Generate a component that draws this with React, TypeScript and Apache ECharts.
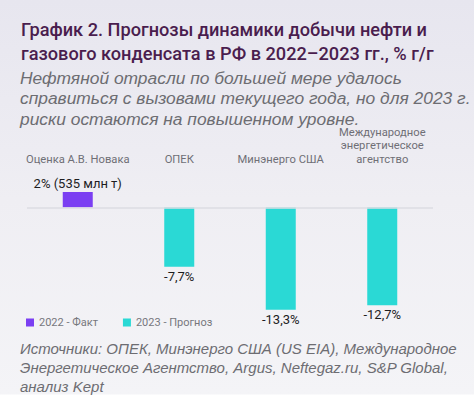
import React, { useEffect, useRef } from "react";
import * as echarts from "echarts";

const categories = [
  "Оценка А.В. Новака",
  "ОПЕК",
  "Минэнерго США",
  "Международное\nэнергетическое\nагентство",
];
const fact2022: (number | string)[] = [2, "-", "-", "-"];
const forecast2023: (number | string)[] = ["-", -7.7, -13.3, -12.7];
const factVolumeMt = 535;
const legendNames = ["2022 - Факт", "2023 - Прогноз"];

const titleLines = [
  "График 2. Прогнозы динамики добычи нефти и",
  "газового конденсата в РФ в 2022–2023 гг., % г/г",
];
const subtitleLines = [
  "Нефтяной отрасли по большей мере удалось",
  "справиться с вызовами текущего года, но для 2023 г.",
  "риски остаются на повышенном уровне.",
];
const sourceLines = [
  "Источники: ОПЕК, Минэнерго США (US EIA), Международное",
  "Энергетическое Агентство, Argus, Neftegaz.ru, S&P Global,",
  "анализ Kept",
];

const PURPLE = "#7b3ff2";
const TEAL = "#2ad9d5";
const SANS = 'Roboto, "Noto Sans", sans-serif';
const ITALIC = '"Liberation Sans", Arial, sans-serif';

const fmt = (v: number) => String(v).replace(".", ",") + "%";

export default function App() {
  const ref = useRef<HTMLDivElement>(null);
  useEffect(() => {
    if (!ref.current) return;
    const chart = echarts.init(ref.current, undefined, { renderer: "svg" });
    chart.setOption({
      animation: false,
      legend: {
        left: 21,
        top: 312,
        itemWidth: 8,
        itemHeight: 8,
        itemGap: 25,
        icon: "rect",
        data: legendNames,
        textStyle: { color: "#77777d", fontSize: 11, fontFamily: SANS },
      },
      grid: { left: 27, width: 406, top: 192, height: 123.2 },
      xAxis: {
        type: "category",
        position: "top",
        data: categories,
        axisLine: { show: false },
        axisTick: { show: false },
        splitLine: { show: false },
        axisLabel: {
          margin: 26,
          color: "#6f6f76",
          fontSize: 11.2,
          fontFamily: SANS,
          lineHeight: 13.5,
          interval: 0,
        },
      },
      yAxis: {
        type: "value",
        min: -14,
        max: 2,
        show: false,
        splitLine: { show: false },
      },
      series: [
        {
          name: legendNames[0],
          type: "bar",
          data: fact2022,
          barWidth: 30,
          barGap: "-100%",
          itemStyle: { color: PURPLE },
          label: {
            show: true,
            position: "top",
            distance: 2,
            color: "#1d1d1f",
            fontSize: 13,
            fontFamily: SANS,
            formatter: (p: any) => `${fmt(p.value)} (${factVolumeMt} млн т)`,
          },
          markLine: {
            silent: true,
            symbol: "none",
            label: { show: false },
            lineStyle: { color: "#dddce3", width: 1.5, type: "solid" },
            data: [{ yAxis: 0 }],
          },
        },
        {
          name: legendNames[1],
          type: "bar",
          data: forecast2023,
          barWidth: 30,
          barGap: "-100%",
          itemStyle: { color: TEAL },
          label: {
            show: true,
            position: "bottom",
            distance: 3,
            color: "#1d1d1f",
            fontSize: 13,
            fontFamily: SANS,
            formatter: (p: any) => fmt(p.value),
          },
        },
      ],
      graphic: [
        {
          type: "text",
          x: 21,
          y: 17,
          style: {
            text: titleLines.join("\n"),
            font: `500 18.2px ${SANS}`,
            fill: "#4a1d4e",
            lineHeight: 24,
          },
        },
        {
          type: "text",
          x: 20,
          y: 67.5,
          style: {
            text: subtitleLines.join("\n"),
            font: `italic 17.4px ${ITALIC}`,
            fill: "#6d6d72",
            lineHeight: 20.5,
          },
        },
        {
          type: "text",
          x: 20,
          y: 338.5,
          style: {
            text: sourceLines.join("\n"),
            font: `italic 15px ${ITALIC}`,
            fill: "#6d6d72",
            lineHeight: 19,
          },
        },
      ],
    });
    return () => chart.dispose();
  }, []);
  return (
    <div
      style={{
        position: "fixed",
        left: 0,
        top: 0,
        width: 474,
        height: 403,
        background:
          "linear-gradient(to bottom, #e7e6ef 0px, #efeef3 200px, #f4f4f7 394px, #ffffff 395px)",
      }}
    >
      <div ref={ref} style={{ width: 474, height: 403 }} />
    </div>
  );
}
